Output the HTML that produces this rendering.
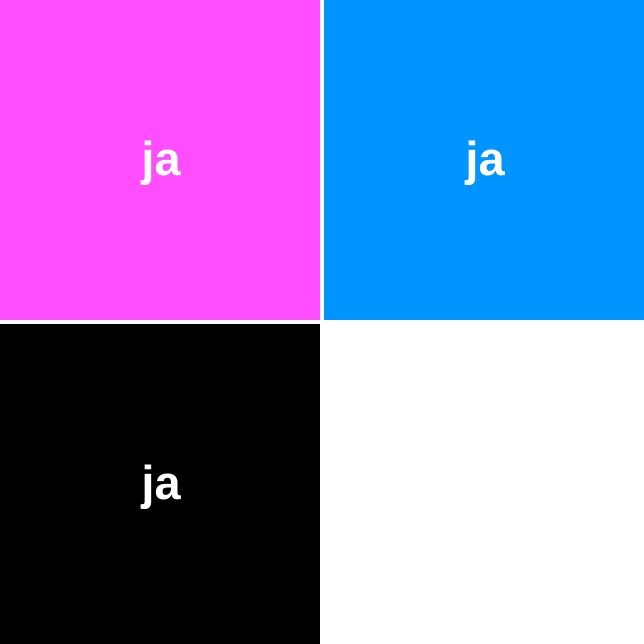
<!DOCTYPE html>
<html><head><meta charset="utf-8"><style>
html,body{margin:0;padding:0;background:#fff;}
#c{position:relative;width:644px;height:644px;overflow:hidden;font-family:"Liberation Sans",sans-serif;}
.t{position:absolute;display:flex;align-items:center;justify-content:center;color:#fff;font-size:47px;font-weight:bold;}
.t span{position:relative;top:-2px;left:1px;}
</style></head><body>
<div id="c"></div>
<script>
const labels=["ja","ja","ja"];
const colors=["#ff4dff","#0094ff","#000000"];
const cols=2, size=320, gap=4;
const c=document.getElementById('c');
labels.forEach((l,i)=>{
  const d=document.createElement('div');
  d.className='t';
  
  
  const col=i%cols,row=Math.floor(i/cols);
  d.style.left=(col*(size+gap))+'px';
  d.style.top=(row*(size+gap))+'px';
  d.style.width=size+'px';d.style.height=size+'px';
  d.style.background=colors[i];
  const s=document.createElement('span');
  
  
  s.textContent=l;
  d.appendChild(s);
  c.appendChild(d);
});
</script>
</body></html>
